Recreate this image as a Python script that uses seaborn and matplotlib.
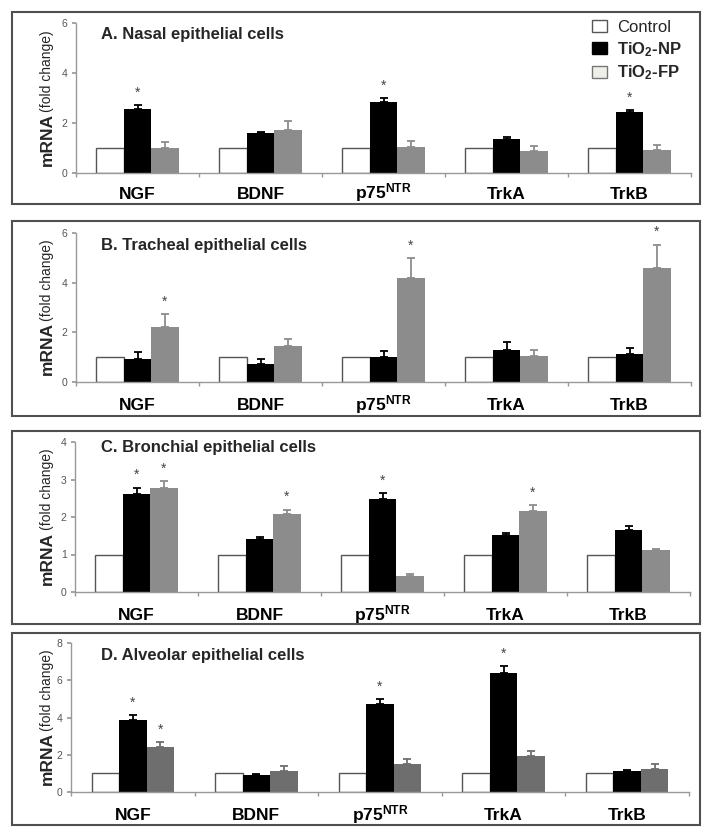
import numpy as np
import pandas as pd
import matplotlib
matplotlib.use("Agg")
import matplotlib.pyplot as plt
import matplotlib.transforms as mtransforms
from matplotlib.patches import Rectangle, Patch
from matplotlib import font_manager
import seaborn as sns

# ---- data ----
genes = ["NGF", "BDNF", "p75NTR", "TrkA", "TrkB"]
gene_labels = ["NGF", "BDNF", r"p75$^{\mathbf{NTR}}$", "TrkA", "TrkB"]
groups = ["Control", "TiO2-NP", "TiO2-FP"]
legend_labels = ["Control", r"TiO$_\mathbf{2}$-NP", r"TiO$_\mathbf{2}$-FP"]

control = [1.0, 1.0, 1.0, 1.0, 1.0]

nasal_np = [2.57, 1.59, 2.83, 1.36, 2.45]
nasal_np_err = [0.13, 0.06, 0.17, 0.09, 0.07]
nasal_fp = [0.99, 1.72, 1.04, 0.89, 0.92]
nasal_fp_err = [0.24, 0.37, 0.24, 0.20, 0.21]
nasal_np_star = [True, False, True, False, True]
nasal_fp_star = [False, False, False, False, False]

tracheal_np = [0.92, 0.74, 1.00, 1.30, 1.11]
tracheal_np_err = [0.27, 0.17, 0.24, 0.33, 0.27]
tracheal_fp = [2.21, 1.45, 4.18, 1.04, 4.59]
tracheal_fp_err = [0.51, 0.29, 0.81, 0.26, 0.94]
tracheal_np_star = [False, False, False, False, False]
tracheal_fp_star = [True, False, True, False, True]

bronchial_np = [2.62, 1.41, 2.49, 1.52, 1.65]
bronchial_np_err = [0.16, 0.06, 0.15, 0.06, 0.11]
bronchial_fp = [2.78, 2.07, 0.42, 2.16, 1.11]
bronchial_fp_err = [0.17, 0.13, 0.05, 0.15, 0.04]
bronchial_np_star = [True, False, True, False, False]
bronchial_fp_star = [True, True, False, True, False]

alveolar_np = [3.88, 0.93, 4.72, 6.41, 1.14]
alveolar_np_err = [0.23, 0.04, 0.25, 0.36, 0.05]
alveolar_fp = [2.39, 1.15, 1.49, 1.95, 1.23]
alveolar_fp_err = [0.27, 0.25, 0.27, 0.26, 0.27]
alveolar_np_star = [True, False, True, True, False]
alveolar_fp_star = [True, False, False, False, False]

titles = ["A. Nasal epithelial cells", "B. Tracheal epithelial cells",
          "C. Bronchial epithelial cells", "D. Alveolar epithelial cells"]
yticks = [[0, 2, 4, 6], [0, 2, 4, 6], [0, 1, 2, 3, 4], [0, 2, 4, 6, 8]]

panels = [
    (nasal_np, nasal_np_err, nasal_fp, nasal_fp_err, nasal_np_star, nasal_fp_star),
    (tracheal_np, tracheal_np_err, tracheal_fp, tracheal_fp_err, tracheal_np_star, tracheal_fp_star),
    (bronchial_np, bronchial_np_err, bronchial_fp, bronchial_fp_err, bronchial_np_star, bronchial_fp_star),
    (alveolar_np, alveolar_np_err, alveolar_fp, alveolar_fp_err, alveolar_np_star, alveolar_fp_star),
]

# ---- layout, in pixels of the 712x838 image ----
W, H = 712, 838
axes_px = [(76, 23, 615, 150), (76, 233, 615, 149), (75, 442, 615, 150), (71, 643, 618, 149)]
boxes_px = [(12, 12, 688, 192), (12, 221, 688, 195), (12, 431, 688, 193), (12, 633, 688, 192)]
title_drop_px = [12, 12, 5, 12]
label_pad_pt = [18.5, 20.5, 20.5, 20.5]
fp_colors = ["#8c8c8c", "#8c8c8c", "#8c8c8c", "#6e6e6e"]

sns.set_theme(style="white")
plt.rcParams["font.family"] = ["Liberation Sans", "DejaVu Sans"]
plt.rcParams["mathtext.fontset"] = "custom"
plt.rcParams["mathtext.rm"] = "Liberation Sans"
plt.rcParams["mathtext.bf"] = "Liberation Sans:bold"
plt.rcParams["mathtext.it"] = "Liberation Sans:italic"

# condensed face for the gene names if it is there
installed = {f.name for f in font_manager.fontManager.ttflist}
narrow = "Liberation Sans Narrow" if "Liberation Sans Narrow" in installed else "Liberation Sans"
narrow_size = 14 if narrow == "Liberation Sans Narrow" else 12.5

fig = plt.figure(figsize=(W / 100, H / 100), dpi=100)

for i, (np_vals, np_err, fp_vals, fp_err, np_star, fp_star) in enumerate(panels):
    x0, y0, w, h = axes_px[i]
    ax = fig.add_axes([x0 / W, (H - y0 - h) / H, w / W, h / H])

    df = pd.DataFrame({
        "gene": genes * 3,
        "group": [g for g in groups for _ in genes],
        "value": control + np_vals + fp_vals,
    })
    palette = {"Control": "white", "TiO2-NP": "black", "TiO2-FP": fp_colors[i]}
    sns.barplot(data=df, x="gene", y="value", hue="group", order=genes,
                hue_order=groups, palette=palette, saturation=1, width=0.667,
                errorbar=None, legend=False, ax=ax)

    for p in ax.containers[0]:
        p.set_edgecolor("#555555")
        p.set_linewidth(1.0)
    for c in ax.containers[1:]:
        for p in c:
            p.set_linewidth(0)

    for c, errs, stars, col in [(ax.containers[1], np_err, np_star, "black"),
                                (ax.containers[2], fp_err, fp_star, fp_colors[i])]:
        xs = [p.get_x() + p.get_width() / 2 for p in c]
        ys = [p.get_height() for p in c]
        ax.errorbar(xs, ys, yerr=[np.zeros(len(errs)), errs], fmt="none",
                    ecolor=col, elinewidth=1.3, capsize=2.6, capthick=1.3)
        for x, y, e, s in zip(xs, ys, errs, stars):
            if s:
                ax.annotate("*", xy=(x, y + e), xytext=(0, 9),
                            textcoords="offset points", ha="center",
                            va="center", fontsize=10, color="#444444")

    ax.set_xlim(-0.5, 4.5)
    ax.set_ylim(0, yticks[i][-1])
    ax.set_yticks(yticks[i])
    ax.set_xticks(range(5))
    ax.set_xticklabels(gene_labels, fontweight="bold", fontsize=narrow_size,
                       color="black", family=[narrow, "Liberation Sans"])
    for t in ax.get_xticklabels():
        t.set_va("baseline")
    ax.set_xticks(np.arange(-0.5, 5, 1), minor=True)
    ax.tick_params(axis="x", which="major", length=0, pad=label_pad_pt[i])
    ax.tick_params(axis="x", which="minor", length=3, color="#999999",
                   direction="out", bottom=True)
    ax.tick_params(axis="y", length=3, color="#999999", direction="out",
                   left=True, labelsize=7.5, labelcolor="#555555", pad=3)
    ax.set_xlabel("")
    ax.set_ylabel("")
    sns.despine(ax=ax)
    for side in ["left", "bottom"]:
        ax.spines[side].set_color("#999999")
        ax.spines[side].set_linewidth(1.0)

    lab_tr = mtransforms.blended_transform_factory(fig.transFigure, ax.transAxes)
    ax.text(47 / W, 0.045, "mRNA", transform=lab_tr, rotation=90, ha="center",
            va="bottom", fontsize=12.5, fontweight="bold")
    ax.text(47 / W, 0.41, "(fold change)", transform=lab_tr, rotation=90,
            ha="center", va="bottom", fontsize=10)

    ax.text(101 / W, 1 - title_drop_px[i] / h, titles[i], transform=lab_tr,
            ha="left", va="center", fontsize=12, fontweight="bold")

    bx, by, bw, bh = boxes_px[i]
    fig.add_artist(Rectangle((bx / W, (H - by - bh) / H), bw / W, bh / H,
                             transform=fig.transFigure, fill=False,
                             edgecolor="#505050", linewidth=1.5))

    if i == 0:
        handles = [Patch(facecolor="white", edgecolor="#555555", linewidth=1),
                   Patch(facecolor="black", edgecolor="black", linewidth=1),
                   Patch(facecolor="#efefe8", edgecolor="#777777", linewidth=1)]
        leg = ax.legend(handles, legend_labels, loc="upper left",
                        bbox_to_anchor=(592 / W, 1 - 20 / H),
                        bbox_transform=fig.transFigure, frameon=False,
                        fontsize=12, handlelength=0.9, handleheight=0.75,
                        handletextpad=0.6, labelspacing=0.3, borderpad=0,
                        borderaxespad=0)
        for t, wgt in zip(leg.get_texts(), ["normal", "bold", "bold"]):
            t.set_fontweight(wgt)

fig.savefig("out.png", dpi=100)
